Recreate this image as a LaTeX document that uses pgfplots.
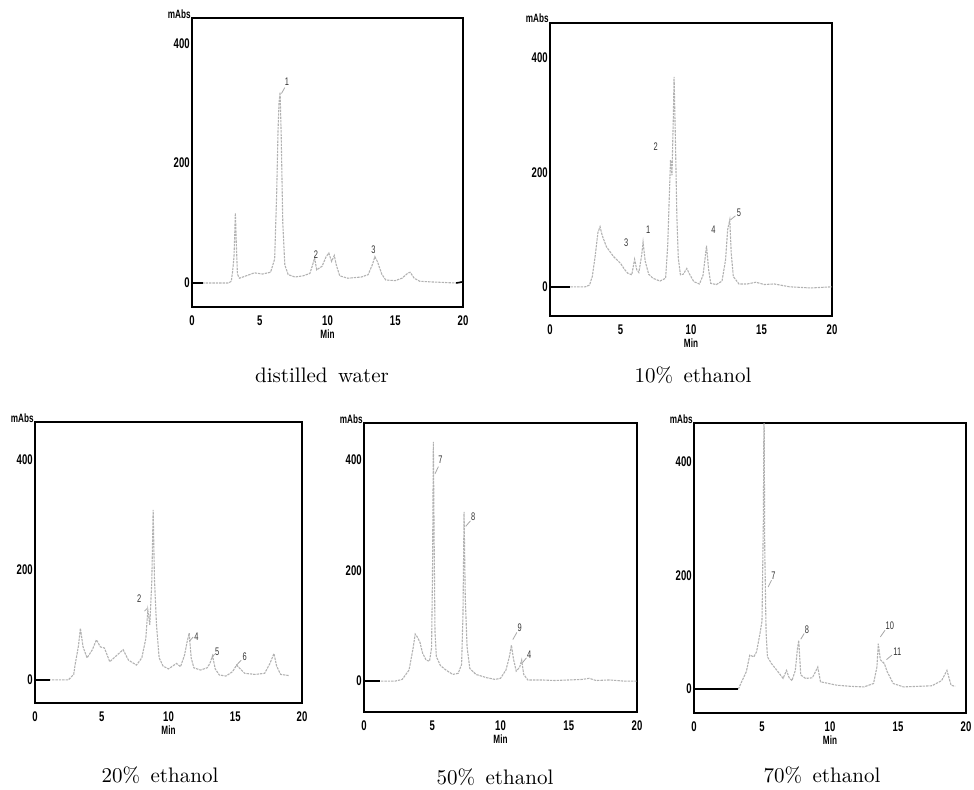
\documentclass[border=0pt]{standalone}
\usepackage{fontspec}
\usepackage{pgfplots}
\pgfplotsset{compat=1.18}
\newfontfamily\tickfont{Liberation Sans}[FakeStretch=0.68]

\pgfplotsset{chrom/.style={
  scale only axis, xmin=0, xmax=20,
  xtick={0,5,10,15,20}, ytick={0,200,400},
  major tick length=0pt,
  axis line style={black, line width=0.9pt},
  /pgf/number format/assume math mode=true,
  ticklabel style={font=\tickfont\bfseries\fontsize{7}{7}\selectfont},
  yticklabel style={inner sep=1pt},
  xticklabel style={yshift=-1pt},
  clip mode=individual,
}}
\tikzset{
  trace/.style={gray!60, line width=0.55pt, dash pattern=on 1.2pt off 0.5pt},
  base/.style={black, line width=0.8pt},
  pk/.style={font=\tickfont\fontsize{5.5}{5.5}\selectfont, inner sep=0.5pt, text=black!80},
  lead/.style={gray!70, line width=0.4pt},
  unit/.style={font=\tickfont\bfseries\fontsize{6}{6}\selectfont, inner sep=0.5pt},
}
\newcommand{\axisnames}{%
  \node[unit, anchor=base east] at (rel axis cs:0,1) {mAbs};
  \node[unit] at (rel axis cs:0.5,0) [yshift=-13.5pt] {Min};
}

\begin{document}
\begin{tikzpicture}
\path[use as bounding box] (0,0) rectangle (487pt,394.5pt);

% distilled water
\begin{axis}[chrom, at={(96pt,241pt)}, anchor=south west,
  width=135.5pt, height=144.5pt, ymin=-40, ymax=442]
\addplot[trace] coordinates {
  (0,0) (1.5,0) (2.7,0) (2.9,3) (3.0,20) (3.1,44) (3.15,78) (3.2,117) (3.28,60)
  (3.35,15) (3.5,8) (4.0,12) (4.6,17) (5.2,15) (5.8,18) (6.1,40) (6.25,150)
  (6.35,255) (6.42,300) (6.5,318) (6.58,250) (6.7,100) (6.85,30) (7.1,14)
  (7.6,10) (8.2,12) (8.7,16) (8.9,30) (9.05,42) (9.2,22) (9.6,28) (9.9,44)
  (10.1,50) (10.3,36) (10.5,46) (10.65,30) (10.9,12) (11.5,8) (12.5,10)
  (13.0,14) (13.3,30) (13.5,44) (13.7,35) (14.0,15) (14.3,5) (15.0,4) (15.5,8)
  (15.9,16) (16.1,18) (16.4,8) (16.8,3) (17.5,2) (18.5,1) (19.5,0) (20,2)
};
\addplot[base] coordinates {(0,0) (0.8,0)};
\addplot[base] coordinates {(19.5,0) (20,2)};
\axisnames
\node[pk] at (axis cs:7.0,336) {1};
\draw[lead] (axis cs:6.6,316) -- (axis cs:6.85,326);
\node[pk] at (axis cs:9.15,48) {2};
\node[pk] at (axis cs:13.4,56) {3};
\end{axis}

% 10% ethanol
\begin{axis}[chrom, at={(275pt,236.5pt)}, anchor=south west,
  width=141pt, height=146.5pt, ymin=-51, ymax=461]
\addplot[trace] coordinates {
  (0,0) (2.5,0) (2.8,3) (3.0,18) (3.2,53) (3.4,95) (3.55,105) (3.7,90) (4.0,70)
  (4.5,53) (5.0,41) (5.3,30) (5.5,24) (5.8,21) (6.0,48) (6.15,30) (6.3,25)
  (6.5,55) (6.6,78) (6.75,45) (7.0,22) (7.3,15) (7.8,10) (8.2,15) (8.35,73)
  (8.45,150) (8.55,222) (8.65,195) (8.75,300) (8.8,367) (8.9,250) (9.0,120)
  (9.1,50) (9.25,21) (9.45,22) (9.7,32) (9.9,22) (10.2,9) (10.6,5) (10.85,20)
  (11.0,50) (11.1,72) (11.25,30) (11.4,6) (11.8,4) (12.2,10) (12.45,47)
  (12.6,100) (12.75,117) (12.85,60) (13.0,18) (13.4,5) (14.0,5) (14.6,8)
  (15.2,4) (15.9,5) (17.0,0) (18.5,-2) (20,0)
};
\addplot[base] coordinates {(0,0) (1.4,0)};
\axisnames
\node[pk] at (axis cs:5.4,77) {3};
\node[pk] at (axis cs:6.97,100) {1};
\node[pk] at (axis cs:7.5,245) {2};
\node[pk] at (axis cs:11.6,100) {4};
\node[pk] at (axis cs:13.4,129) {5};
\draw[lead] (axis cs:12.8,117) -- (axis cs:13.15,124);
\end{axis}

% 20% ethanol
\begin{axis}[chrom, at={(17.5pt,43pt)}, anchor=south west,
  width=133.5pt, height=140.5pt, ymin=-42, ymax=469]
\addplot[trace] coordinates {
  (0,0) (2.5,0) (2.9,10) (3.0,27) (3.25,61) (3.4,94) (3.6,60) (3.9,40) (4.3,55)
  (4.6,73) (4.9,60) (5.2,58) (5.6,33) (6.0,42) (6.6,55) (7.0,36) (7.6,27)
  (8.0,40) (8.3,75) (8.45,127) (8.6,100) (8.75,180) (8.85,309) (8.95,182)
  (9.1,100) (9.3,40) (9.6,25) (10.0,20) (10.6,30) (10.9,24) (11.2,45) (11.4,70)
  (11.55,85) (11.7,40) (11.9,22) (12.4,18) (12.9,22) (13.1,30) (13.3,44)
  (13.5,20) (13.8,9) (14.3,7) (14.8,15) (15.1,27) (15.3,22) (15.7,12) (16.5,10)
  (17.2,12) (17.6,30) (17.9,48) (18.1,25) (18.4,10) (19,8)
};
\addplot[base] coordinates {(0,0) (1.1,0)};
\axisnames
\node[pk] at (axis cs:7.8,147) {2};
\draw[lead] (axis cs:8.2,125) -- (axis cs:8.4,130);
\node[pk] at (axis cs:12.1,79) {4};
\draw[lead] (axis cs:11.55,70) -- (axis cs:11.85,78);
\node[pk] at (axis cs:13.65,52) {5};
\draw[lead] (axis cs:13.25,40) -- (axis cs:13.45,47);
\node[pk] at (axis cs:15.7,42) {6};
\draw[lead] (axis cs:15.1,27) -- (axis cs:15.45,36);
\end{axis}

% 50% ethanol
\begin{axis}[chrom, at={(182pt,38.5pt)}, anchor=south west,
  width=136.5pt, height=144.5pt, ymin=-56, ymax=467]
\addplot[trace] coordinates {
  (0,0) (2.3,0) (2.8,3) (3.3,20) (3.6,60) (3.75,85) (3.9,80) (4.1,70) (4.3,50)
  (4.55,38) (4.8,36) (4.95,60) (5.02,200) (5.08,433) (5.14,250) (5.2,90)
  (5.3,44) (5.6,28) (6.0,20) (6.5,12) (6.9,14) (7.15,30) (7.25,120) (7.33,306)
  (7.42,150) (7.55,62) (7.75,23) (8.2,12) (9.0,6) (9.6,3) (10.0,5) (10.4,20)
  (10.65,44) (10.8,65) (10.95,40) (11.15,18) (11.4,25) (11.55,38) (11.7,12)
  (12.0,2) (13,2) (14,1) (15,2) (16,3) (16.5,5) (17,1) (18,2) (19,0) (20,0)
};
\addplot[base] coordinates {(0,0) (1.2,0)};
\axisnames
\node[pk] at (axis cs:5.6,400) {7};
\draw[lead] (axis cs:5.2,375) -- (axis cs:5.45,388);
\node[pk] at (axis cs:8.0,297) {8};
\draw[lead] (axis cs:7.45,280) -- (axis cs:7.8,290);
\node[pk] at (axis cs:11.4,97) {9};
\draw[lead] (axis cs:10.9,75) -- (axis cs:11.2,88);
\node[pk] at (axis cs:12.1,47) {4};
\draw[lead] (axis cs:11.6,33) -- (axis cs:11.9,42);
\end{axis}

% 70% ethanol
\begin{axis}[chrom, at={(347pt,38pt)}, anchor=south west,
  width=136pt, height=145pt, ymin=-42, ymax=469]
\addplot[trace] coordinates {
  (3.26,0) (3.5,13) (3.85,31) (4.1,60) (4.4,57) (4.6,66) (4.85,98) (5.0,120)
  (5.1,300) (5.15,520) (5.2,250) (5.3,100) (5.4,57) (5.7,45) (6.1,33) (6.55,19)
  (6.8,33) (7.0,20) (7.2,15) (7.45,33) (7.6,70) (7.7,86) (7.85,25) (8.2,19)
  (8.7,20) (9.1,39) (9.3,13) (10.5,7) (11.5,5) (12.5,4) (13.2,10) (13.45,39)
  (13.55,80) (13.7,52) (14.0,45) (14.2,31) (14.65,10) (15.4,4) (16.5,5)
  (17.5,6) (18.2,15) (18.6,33) (18.9,7) (19.2,5)
};
\addplot[base] coordinates {(0,0) (3.26,0)};
\axisnames
\node[pk] at (axis cs:5.85,200) {7};
\draw[lead] (axis cs:5.45,180) -- (axis cs:5.7,192);
\node[pk] at (axis cs:8.3,105) {8};
\draw[lead] (axis cs:7.85,88) -- (axis cs:8.1,98);
\node[pk] at (axis cs:14.4,111) {10};
\draw[lead] (axis cs:13.7,92) -- (axis cs:14.05,104);
\node[pk] at (axis cs:14.95,66) {11};
\draw[lead] (axis cs:14.15,52) -- (axis cs:14.55,60);
\end{axis}

\node[font=\fontsize{10.5}{12}\selectfont] at (161pt,207pt) {distilled\hspace{0.5em}water};
\node[font=\fontsize{10.5}{12}\selectfont] at (346.5pt,207pt) {10\%\hspace{0.5em}ethanol};
\node[font=\fontsize{10.5}{12}\selectfont] at (80pt,7pt) {20\%\hspace{0.5em}ethanol};
\node[font=\fontsize{10.5}{12}\selectfont] at (247.5pt,6pt) {50\%\hspace{0.5em}ethanol};
\node[font=\fontsize{10.5}{12}\selectfont] at (411pt,7pt) {70\%\hspace{0.5em}ethanol};
\end{tikzpicture}
\end{document}
